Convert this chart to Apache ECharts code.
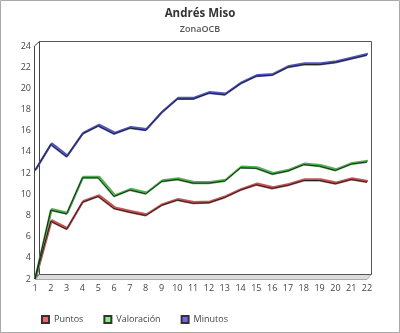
<!DOCTYPE html>
<html><head><meta charset="utf-8">
<script src="https://cdn.jsdelivr.net/npm/echarts@6/dist/echarts.min.js"></script>
<style>html,body{margin:0;padding:0;background:#fff}#c{width:400px;height:333px}</style>
</head><body><div id="c"></div>
<script>
var categories = ['1','2','3','4','5','6','7','8','9','10','11','12','13','14','15','16','17','18','19','20','21','22'];
var puntos = [2, 7.45, 6.7, 9.25, 9.8, 8.65, 8.3, 8.0, 8.95, 9.45, 9.15, 9.2, 9.7, 10.4, 10.9, 10.55, 10.85, 11.3, 11.3, 11.0, 11.4, 11.15];
var valoracion = [2, 8.5, 8.15, 11.55, 11.55, 9.8, 10.4, 10.05, 11.2, 11.4, 11.05, 11.05, 11.25, 12.5, 12.45, 11.9, 12.2, 12.8, 12.65, 12.25, 12.85, 13.05];
var minutos = [12.25, 14.7, 13.55, 15.7, 16.45, 15.7, 16.25, 16.05, 17.7, 19.0, 19.0, 19.55, 19.4, 20.45, 21.15, 21.25, 22.0, 22.25, 22.25, 22.45, 22.8, 23.15];
var yTicks = {min: 2, max: 24, interval: 2};

var names = ['Puntos', 'Valoración', 'Minutos'];
var legendColors = ['#e86a6a', '#86f086', '#6a6af0'];
var bandColors = ['#c25454', '#4fb04f', '#4f56c0'];
var seriesData = [puntos, valoracion, minutos];

var G = {left: 35, right: 33, top: 46, bottom: 54};
var W = 400, H = 333, dx = 4, dy = -5;
var fx0 = G.left, fx1 = W - G.right, fy0 = G.top, fy1 = H - G.bottom;

var series = [];
seriesData.forEach(function (d, i) {
  series.push({
    name: names[i], type: 'line', data: d, symbol: 'none', z: 3,
    itemStyle: {color: legendColors[i], borderColor: '#333', borderWidth: 1},
    lineStyle: {color: bandColors[i], width: 2, shadowColor: bandColors[i], shadowBlur: 0, shadowOffsetX: 1, shadowOffsetY: -1.2},
    animation: false
  });
});
seriesData.forEach(function (d, i) {
  series.push({
    name: '_edge' + i, type: 'line', data: d, symbol: 'none', z: 4, silent: true,
    lineStyle: {color: '#222', width: 1},
    animation: false
  });
});

var chart = echarts.init(document.getElementById('c'), null, {renderer: 'canvas'});
chart.setOption({
  backgroundColor: '#fff',
  animation: false,
  title: {
    text: 'Andrés Miso', subtext: 'ZonaOCB', left: 'center', top: 3, itemGap: 5,
    textStyle: {fontFamily: 'Open Sans', fontSize: 11.5, fontWeight: 'bold', color: '#333'},
    subtextStyle: {fontFamily: 'Open Sans', fontSize: 9, fontWeight: 600, color: '#555'}
  },
  legend: {
    data: names, left: 36, top: 310, icon: 'rect', itemWidth: 7, itemHeight: 7, itemGap: 20,
    textStyle: {fontFamily: 'Open Sans', fontSize: 9, color: '#444'}
  },
  grid: {left: G.left, right: G.right, top: G.top, bottom: G.bottom},
  xAxis: {
    type: 'category', data: categories, boundaryGap: false,
    axisLine: {show: false}, axisTick: {show: false},
    axisLabel: {fontFamily: 'Open Sans', fontSize: 9, color: '#444', margin: 5, interval: 0}
  },
  yAxis: {
    type: 'value', min: yTicks.min, max: yTicks.max, interval: yTicks.interval,
    axisLine: {show: false}, axisTick: {show: false}, splitLine: {show: false},
    axisLabel: {fontFamily: 'Open Sans', fontSize: 9, color: '#444', margin: 4}
  },
  graphic: [
    {type: 'rect', shape: {x: 0.5, y: 0.5, width: 399, height: 332}, style: {fill: null, stroke: '#a8a8a8', lineWidth: 1}, z: 0},
    {type: 'rect', shape: {x: fx0 + dx + 0.5, y: fy0 + dy + 0.5, width: fx1 - fx0, height: fy1 - fy0}, style: {fill: '#fff', stroke: '#555', lineWidth: 1}, z: 0},
    {type: 'polygon', shape: {points: [[fx0, fy1 + 0.5], [fx0 + dx, fy1 + dy + 0.5], [fx1 + dx, fy1 + dy + 0.5], [fx1, fy1 + 0.5]]}, style: {fill: '#dcdcdc', stroke: '#aaa', lineWidth: 1}, z: 1},
    {type: 'line', shape: {x1: fx0 + dx + 0.5, y1: fy1 + dy + 0.5, x2: fx1 + dx + 0.5, y2: fy1 + dy + 0.5}, style: {stroke: '#555', lineWidth: 1}, z: 1},
    {type: 'polygon', shape: {points: [[fx0 - 0.5, fy1], [fx0 - 0.5, fy0], [fx0 + dx + 0.5, fy0 + dy + 0.5], [fx0 + dx + 0.5, fy1 + dy]]}, style: {fill: '#fff', stroke: '#444', lineWidth: 1}, z: 1}
  ],
  series: series
});
</script></body></html>
